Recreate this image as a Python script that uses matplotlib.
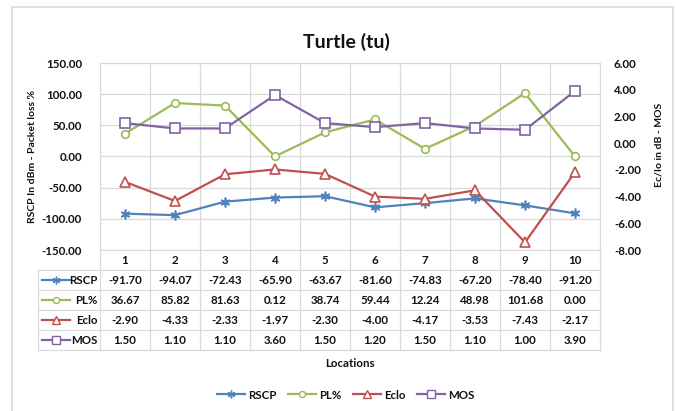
import matplotlib
matplotlib.use("Agg")
import matplotlib.pyplot as plt
from matplotlib.patches import Rectangle
from matplotlib.lines import Line2D

plt.rcParams['font.family'] = ['Lato', 'DejaVu Sans']

locations = [1, 2, 3, 4, 5, 6, 7, 8, 9, 10]
rscp = [-91.70, -94.07, -72.43, -65.90, -63.67, -81.60, -74.83, -67.20, -78.40, -91.20]
pl = [36.67, 85.82, 81.63, 0.12, 38.74, 59.44, 12.24, 48.98, 101.68, 0.00]
eclo = [-2.90, -4.33, -2.33, -1.97, -2.30, -4.00, -4.17, -3.53, -7.43, -2.17]
mos = [1.50, 1.10, 1.10, 3.60, 1.50, 1.20, 1.50, 1.10, 1.00, 3.90]
left_ticks = [-150, -100, -50, 0, 50, 100, 150]
right_ticks = [-8, -6, -4, -2, 0, 2, 4, 6]

W, H = 677, 411
fig = plt.figure(figsize=(W / 100, H / 100), dpi=100)

grid_c = '#d9d9d9'
txt_c = '#111111'
fs = 8.3

# chart border
fig.patches.append(Rectangle((12 / W, -0.01), (673 - 12) / W, 1 - 7.5 / H + 0.01,
                             transform=fig.transFigure, fill=False,
                             edgecolor='#d9d9d9', linewidth=1.2))

# main axes
ax = fig.add_axes([100 / W, 1 - 250 / H, 500 / W, 187 / H])
ax.set_xlim(0.5, 10.5)
ax.set_ylim(-150, 150)
ax.set_yticks(left_ticks)
ax.set_yticklabels([f"{v:.2f}" for v in left_ticks], fontsize=fs, fontweight='bold', color=txt_c)
ax.set_xticks([])
ax.tick_params(axis='y', length=0, pad=13)
for v in left_ticks:
    ax.axhline(v, color=grid_c, linewidth=0.9, zorder=0)
for x in [i + 0.5 for i in range(0, 11)]:
    ax.axvline(x, color=grid_c, linewidth=0.9, zorder=0)
for s in ax.spines.values():
    s.set_color(grid_c)
ax.set_ylabel('RSCP In dBm - Packet loss %', fontsize=7.5, fontweight='bold', color=txt_c)
ax.yaxis.set_label_coords(-0.126, 0.5)

ax2 = ax.twinx()
ax2.set_ylim(-8, 6)
ax2.set_yticks(right_ticks)
ax2.set_yticklabels([f"{v:.2f}" for v in right_ticks], fontsize=fs, fontweight='bold', color=txt_c)
ax2.tick_params(axis='y', length=0, pad=10)
for s in ax2.spines.values():
    s.set_visible(False)
ax2.set_ylabel('Ec/Io in dB - MOS', fontsize=7.5, fontweight='bold', color=txt_c)
ax2.yaxis.set_label_coords(1.11, 0.56)

styles = {
    'RSCP': dict(color='#4F81BD', marker=(6, 2, 0), ms=7, mfc='none'),
    'PL%': dict(color='#9BBB59', marker='o', ms=5.5, mfc='white'),
    'Eclo': dict(color='#C0504D', marker='^', ms=7, mfc='white'),
    'MOS': dict(color='#8064A2', marker='s', ms=7, mfc='white'),
}
series = [('RSCP', rscp, ax), ('PL%', pl, ax), ('Eclo', eclo, ax2), ('MOS', mos, ax2)]
for name, vals, a in series:
    st = styles[name]
    a.plot(locations, vals, color=st['color'], linewidth=1.6, marker=st['marker'],
           markersize=st['ms'], markerfacecolor=st['mfc'], markeredgecolor=st['color'],
           markeredgewidth=1.2, zorder=3, clip_on=False)

# data table axes
tx0 = 0.5 - 62 / 50
tax = fig.add_axes([38 / W, 1 - 350 / H, 562 / W, 100 / H])
tax.set_xlim(tx0, 10.5)
tax.set_ylim(5, 0)
tax.axis('off')
for yy in range(1, 6):
    tax.plot([tx0, 10.5], [yy, yy], color=grid_c, linewidth=0.9, clip_on=False)
for xx in [i + 0.5 for i in range(0, 11)]:
    tax.plot([xx, xx], [0, 5], color=grid_c, linewidth=0.9, clip_on=False)
tax.plot([tx0, tx0], [1, 5], color=grid_c, linewidth=0.9, clip_on=False)
for loc in locations:
    tax.text(loc, 0.5, str(loc), ha='center', va='center', fontsize=fs,
             fontweight='bold', color=txt_c)
for r, (name, vals, _) in enumerate(series, start=1):
    st = styles[name]
    tax.plot([tx0 + 0.08, tx0 + 0.64], [r + 0.5, r + 0.5], color=st['color'], linewidth=1.6,
             clip_on=False)
    tax.plot([tx0 + 0.36], [r + 0.5], marker=st['marker'], markersize=st['ms'] * 0.8,
             color=st['color'], markerfacecolor=st['mfc'], markeredgewidth=1.0,
             linestyle='none', clip_on=False)
    tax.text(0.45, r + 0.5, name, ha='right', va='center', fontsize=fs,
             fontweight='bold', color=txt_c)
    for loc, v in zip(locations, vals):
        tax.text(loc, r + 0.5, f"{v:.2f}", ha='center', va='center', fontsize=fs,
                 fontweight='bold', color=txt_c)

fig.text(350 / W, 1 - 363 / H, 'Locations', ha='center', va='center', fontsize=fs,
         fontweight='bold', color=txt_c)
fig.text(346 / W, 1 - 42 / H, 'Turtle (tu)', ha='center', va='center', fontsize=14,
         fontweight='bold', color=txt_c)

handles = []
for name, _, _ in series:
    st = styles[name]
    handles.append(Line2D([], [], color=st['color'], linewidth=1.6, marker=st['marker'],
                          markersize=st['ms'] * 0.8, markerfacecolor=st['mfc'],
                          markeredgewidth=1.0, label=name))
fig.legend(handles=handles, loc='center', bbox_to_anchor=(346 / W, 1 - 395 / H), ncol=4,
           frameon=False, prop={'size': fs, 'weight': 'bold'}, handlelength=2.4,
           columnspacing=1.0, handletextpad=0.3, labelcolor=txt_c)

fig.savefig('out.png', dpi=100)
